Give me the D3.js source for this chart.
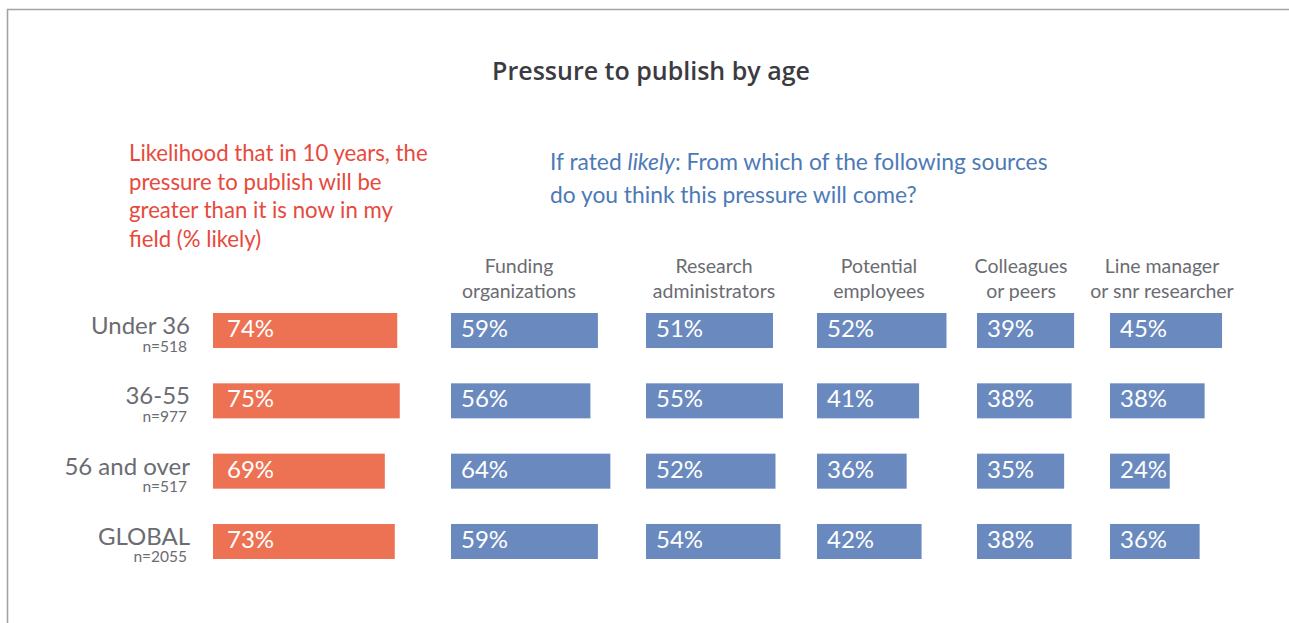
<!DOCTYPE html>
<html>
<head>
<meta charset="utf-8">
<script src="https://cdn.jsdelivr.net/npm/d3@7"></script>
<style>
  html, body { margin: 0; padding: 0; background: #fff; }
  svg { display: block; font-family: Lato, "Open Sans", sans-serif; }
</style>
</head>
<body>
<svg id="chart" width="1289" height="623"></svg>
<script>
// Age groups and their sample sizes
const ages = ["Under 36", "36-55", "56 and over", "GLOBAL"];
const sampleSizes = ["n=518", "n=977", "n=517", "n=2055"];

// % saying pressure to publish will be greater in 10 years
const likelyGreater = [74, 75, 69, 73];

// Sources of pressure (header lines)
const sourceLabels = [
  ["Funding", "organizations"],
  ["Research", "administrators"],
  ["Potential", "employees"],
  ["Colleagues", "or peers"],
  ["Line manager", "or snr researcher"]
];

// % naming each source, by age group
const funding     = [59, 56, 64, 59];
const research    = [51, 55, 52, 54];
const potential   = [52, 41, 36, 42];
const colleagues  = [39, 38, 35, 38];
const lineManager = [45, 38, 24, 36];

const sourceSeries = [funding, research, potential, colleagues, lineManager];

// ---- layout ----
const W = 1289, H = 623;
const orange = "#ed7153", blue = "#6a8abf", grey = "#6b6c72";
const likelyX = 213;
const sourceX = [451, 646, 817, 977, 1110];
const headerCx = [519, 714, 879, 1021, 1162];

const svg = d3.select("#chart");

// frame
svg.append("path")
  .attr("d", `M7.5,${H + 2} V9.5 H${W + 2}`)
  .attr("fill", "none")
  .attr("stroke", "#a3a3a7")
  .attr("stroke-width", 1.6);

// scales
const x = d3.scaleLinear().domain([0, 100]).range([0, 249]);
const y = d3.scaleBand().domain(ages).range([313, 559]).paddingInner(0.502);

// title
svg.append("text")
  .attr("x", 651).attr("y", 80)
  .attr("text-anchor", "middle")
  .attr("font-family", "'Open Sans', sans-serif")
  .attr("font-size", 25).attr("font-weight", 600)
  .attr("fill", "#3b3b41")
  .text("Pressure to publish by age");

// red question
const redLines = [
  "Likelihood that in 10 years, the",
  "pressure to publish will be",
  "greater than it is now in my",
  "field (% likely)"
];
svg.append("g").selectAll("text").data(redLines).join("text")
  .attr("x", 129).attr("y", (d, i) => 161 + i * 28.7)
  .attr("font-size", 22.2)
  .attr("fill", "#e8493d")
  .text(d => d);

// blue question
const blueQ = svg.append("g").attr("fill", "#4d7ab6").attr("font-size", 22.8);
const q1 = blueQ.append("text").attr("x", 550).attr("y", 170);
q1.append("tspan").text("If rated ");
q1.append("tspan").attr("font-style", "italic").text("likely");
q1.append("tspan").text(": From which of the following sources");
blueQ.append("text").attr("x", 550).attr("y", 203)
  .text("do you think this pressure will come?");

// source headers
const headers = svg.append("g")
  .attr("font-size", 19.5).attr("fill", grey).attr("text-anchor", "middle");
sourceLabels.forEach((lines, j) => {
  headers.selectAll(null).data(lines).join("text")
    .attr("x", headerCx[j]).attr("y", (d, i) => 273 + i * 25)
    .text(d => d);
});

// row labels
const rows = svg.append("g").attr("text-anchor", "end").attr("fill", grey);
rows.selectAll("text.age").data(ages).join("text")
  .attr("class", "age")
  .attr("x", 190).attr("y", d => y(d) + 21)
  .attr("font-size", 24)
  .text(d => d);
rows.selectAll("text.n").data(ages).join("text")
  .attr("class", "n")
  .attr("x", 187).attr("y", d => y(d) + 38.5)
  .attr("font-size", 15.5)
  .text((d, i) => sampleSizes[i]);

// likelihood bars
const lg = svg.append("g");
lg.selectAll("rect").data(likelyGreater).join("rect")
  .attr("x", likelyX).attr("y", (d, i) => y(ages[i]))
  .attr("width", d => x(d)).attr("height", y.bandwidth())
  .attr("fill", orange);
lg.selectAll("text").data(likelyGreater).join("text")
  .attr("x", likelyX + 14).attr("y", (d, i) => y(ages[i]) + 24)
  .attr("font-size", 24).attr("fill", "#fff")
  .text(d => d + "%");

// source bars
sourceSeries.forEach((series, j) => {
  const g = svg.append("g");
  g.selectAll("rect").data(series).join("rect")
    .attr("x", sourceX[j]).attr("y", (d, i) => y(ages[i]))
    .attr("width", d => x(d)).attr("height", y.bandwidth())
    .attr("fill", blue);
  g.selectAll("text").data(series).join("text")
    .attr("x", sourceX[j] + 10).attr("y", (d, i) => y(ages[i]) + 24)
    .attr("font-size", 24).attr("fill", "#fff")
    .text(d => d + "%");
});
</script>
</body>
</html>
